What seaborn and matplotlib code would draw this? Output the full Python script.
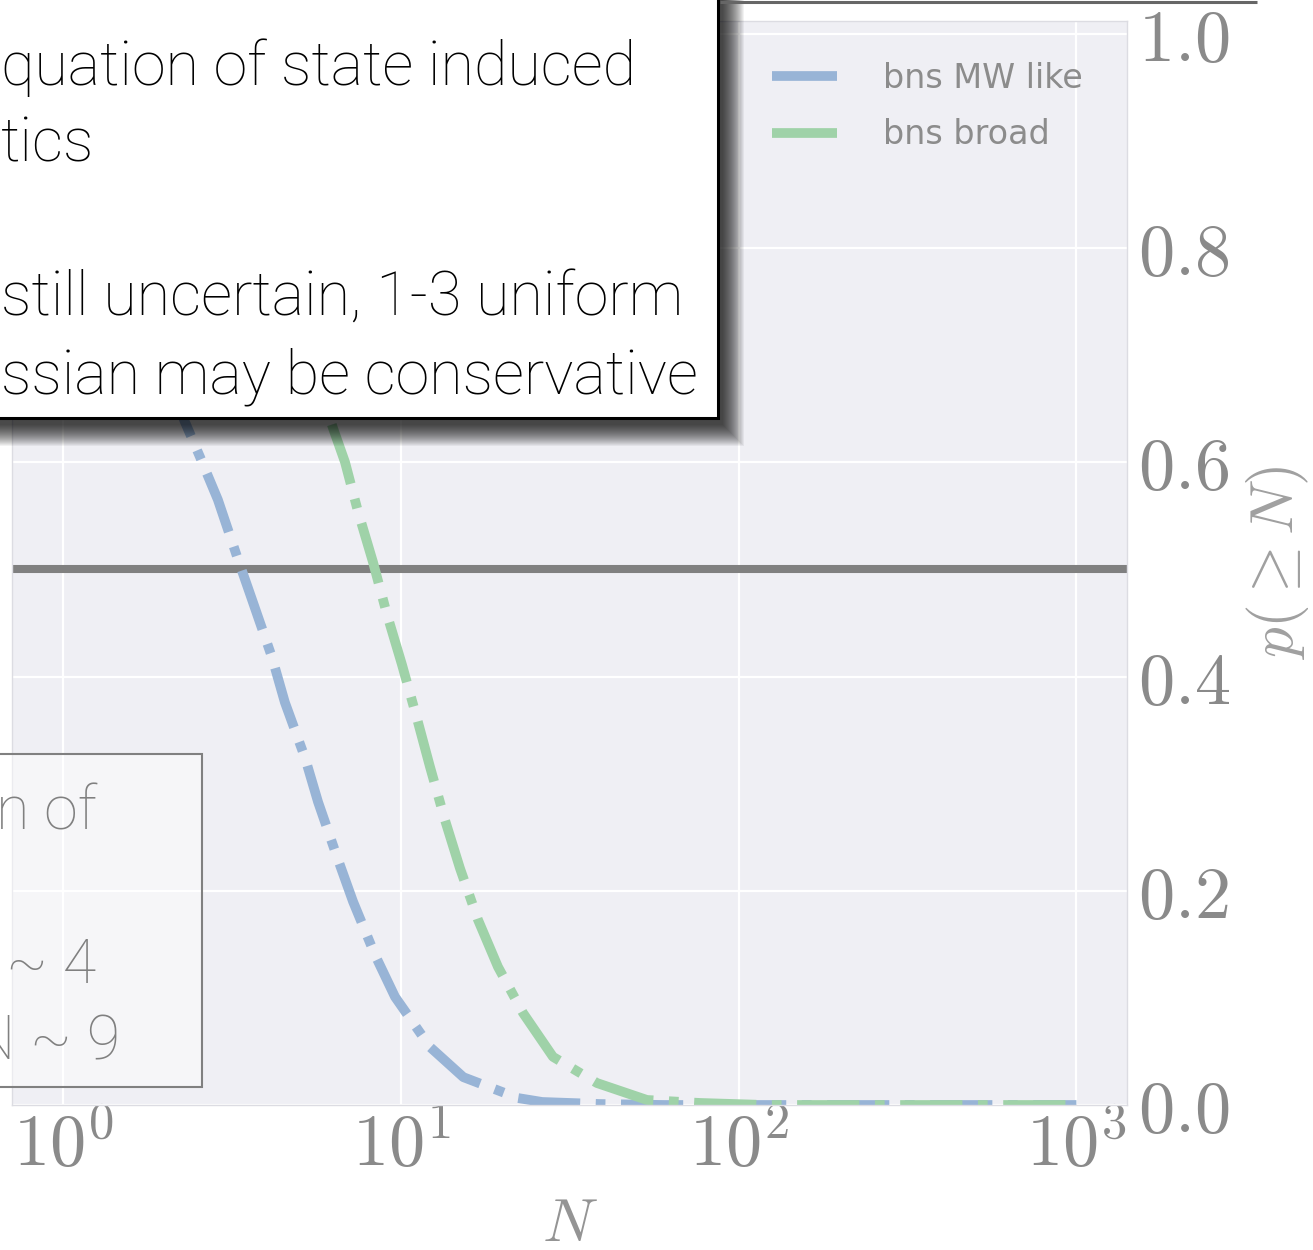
import numpy as np
import pandas as pd
import matplotlib
matplotlib.use("Agg")
import matplotlib.pyplot as plt
from matplotlib.patches import Rectangle
from matplotlib.lines import Line2D
import seaborn as sns

# Survival curves p(>=N) for the two binary-neutron-star mass models
n_mw = [1.0, 1.5, 2.0, 2.29, 2.54, 2.87, 3.27, 3.62, 4.15, 4.53, 5.20, 5.68, 6.46, 7.21,
        8.38, 9.60, 12.2, 15.3, 22.2, 26.2, 38.8, 60.0, 1000.0]
p_mw = [0.95, 0.80, 0.685, 0.638, 0.605, 0.565, 0.512, 0.472, 0.418, 0.376, 0.324, 0.283,
        0.232, 0.190, 0.140, 0.101, 0.054, 0.026, 0.0065, 0.0028, 0.0009, 0.0, 0.0]
n_broad = [1.0, 2.0, 3.0, 4.0, 5.0, 6.29, 6.83, 7.46, 8.26, 9.09, 10.07, 11.15, 12.18, 13.5,
           14.95, 16.9, 19.37, 22.97, 28.19, 38.06, 53.5, 76.8, 120.0, 1000.0]
p_broad = [1.0, 0.98, 0.92, 0.83, 0.73, 0.632, 0.600, 0.554, 0.507, 0.458, 0.411, 0.361,
           0.316, 0.266, 0.221, 0.173, 0.129, 0.086, 0.045, 0.0205, 0.0047, 0.0019, 0.0, 0.0]

series_labels = ["bns MW like", "bns broad"]
series_colors = ["#98B4D6", "#9FD2A8"]
threshold = 0.5

x_ticks = [1, 10, 100, 1000]
x_tick_labels = [r"$10^{0}$", r"$10^{1}$", r"$10^{2}$", r"$10^{3}$"]
y_ticks = [0.0, 0.2, 0.4, 0.6, 0.8, 1.0]
y_tick_labels = [r"$0.0$", r"$0.2$", r"$0.4$", r"$0.6$", r"$0.8$", r"$1.0$"]

note_lines = ["quation of state induced", "tics", "", "still uncertain, 1-3 uniform",
              "ssian may be conservative"]
side_lines = ["n of", "", "N ~ 4", "N ~ 9"]

W, H = 1313, 1250
sns.set_theme(style="darkgrid")
plt.rcParams["mathtext.fontset"] = "cm"
plt.rcParams["font.family"] = ["DejaVu Sans"]

fig = plt.figure(figsize=(W / 100, H / 100), dpi=100)
fig.patch.set_facecolor("white")
ax = fig.add_axes([12 / W, 1 - 1105 / H, (1127 - 12) / W, (1105 - 21) / H])
ax.set_facecolor("#EFEFF4")

df = pd.concat([
    pd.DataFrame({"N": n_mw, "p": p_mw, "model": series_labels[0]}),
    pd.DataFrame({"N": n_broad, "p": p_broad, "model": series_labels[1]}),
], ignore_index=True)

ax.axhline(threshold, color="#808080", lw=5.8, zorder=1.8)
sns.lineplot(data=df, x="N", y="p", hue="model", hue_order=series_labels,
             palette=dict(zip(series_labels, series_colors)), lw=7, linestyle="-.",
             estimator=None, sort=False, legend=False, ax=ax, zorder=2)

ax.set_xscale("log")
ax.set_xlim(0.705, 1412)
ax.set_ylim(0, 1.012)
ax.set_xticks(x_ticks)
ax.set_xticklabels(x_tick_labels)
ax.xaxis.set_minor_locator(matplotlib.ticker.NullLocator())
ax.set_yticks(y_ticks)
ax.set_yticklabels(y_tick_labels)
ax.yaxis.tick_right()
ax.yaxis.set_label_position("right")
ax.grid(True, which="major", color="white", lw=1.6)
ax.tick_params(axis="x", labelsize=52, colors="#8a8a8a", pad=5, length=0)
ax.tick_params(axis="y", labelsize=52, colors="#8a8a8a", pad=8, length=0)
for s in ax.spines.values():
    s.set_visible(True)
    s.set_color("#DCDCE2")
    s.set_linewidth(1.0)

ax.set_xlabel(r"$N$", fontsize=44, color="#949494")
ax.set_ylabel(r"$p(\geq N)$", fontsize=44, color="#A0A0A0")
ax.xaxis.set_label_coords(0.5, -0.083)
ax.yaxis.set_label_coords(1.105, 0.5)

handles = [Line2D([0], [0], color=c, lw=7, solid_capstyle="butt") for c in series_colors]
ax.legend(handles, series_labels, loc="upper left", bbox_to_anchor=(772 / W, 1 - 62 / H),
          bbox_transform=fig.transFigure, frameon=False, fontsize=24, handlelength=1.95,
          handletextpad=1.38, labelspacing=0.70, borderpad=0, borderaxespad=0,
          labelcolor="#8c8c8c")

# overlay layer in pixel coordinates
ov = fig.add_axes([0, 0, 1, 1], zorder=10)
ov.set_xlim(0, W)
ov.set_ylim(H, 0)
ov.axis("off")
ov.patch.set_alpha(0)

# lower-left note box
ov.add_patch(Rectangle((-10, 754), 212, 333, facecolor=(1, 1, 1, 0.45),
                       edgecolor="#808080", lw=1.5))
side_x = [-4, 0, -52, -28]
for i, line in enumerate(side_lines):
    if line:
        ov.text(side_x[i], 829 + 77 * i, line, fontsize=44, color="#808080",
                family="Roboto", fontweight="light", va="baseline", ha="left")

# upper note box with soft drop shadow
bx, by, bw, bh = -20, -20, 738, 438
for k in range(1, 23):
    ov.add_patch(Rectangle((bx + 4 - k, by + 6 - k), bw + 2 * k, bh + 2 * k,
                           facecolor="black", alpha=0.05, lw=0))
ov.add_patch(Rectangle((bx, by), bw, bh, facecolor="white", edgecolor="black", lw=2.2))
for i, line in enumerate(note_lines):
    if line:
        ov.text(1, 85 + 77 * i, line, fontsize=44, color="black",
                family="Roboto", fontweight="light", va="baseline", ha="left")

ov.plot([720, 1257], [1.5, 1.5], color="#666666", lw=2.2, solid_capstyle="butt")

fig.savefig("out.png", dpi=100)
